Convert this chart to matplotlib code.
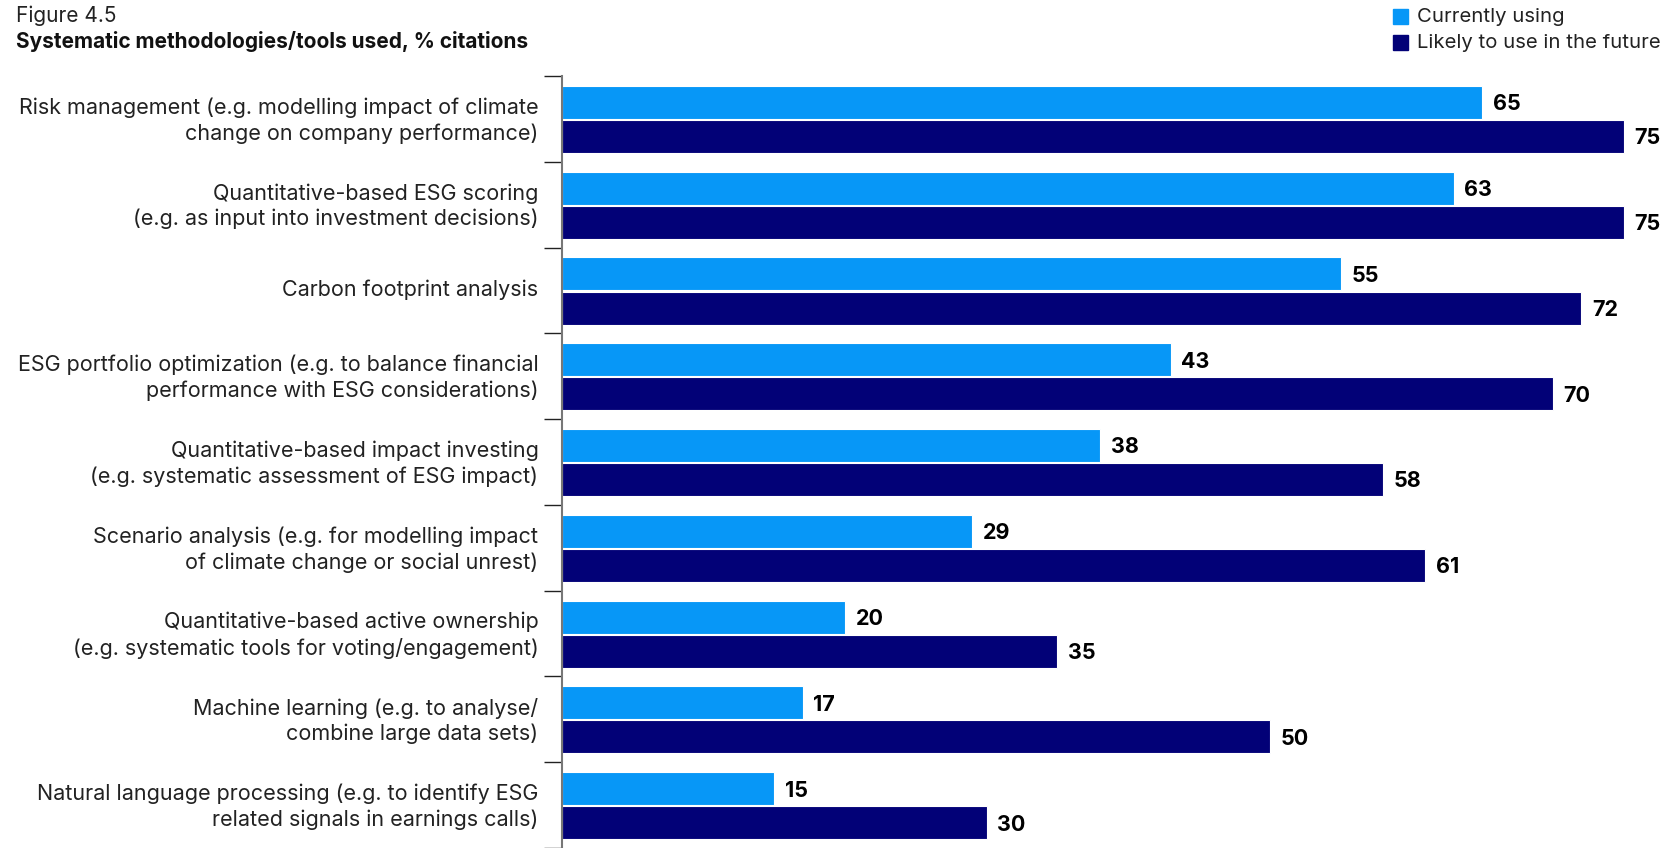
import numpy as np
import matplotlib.pyplot as plt

plt.rcParams['font.family'] = ['Inter', 'DejaVu Sans']

# Data
categories = [
    "Risk management (e.g. modelling impact of climate\nchange on company performance)",
    "Quantitative-based ESG scoring\n(e.g. as input into investment decisions)",
    "Carbon footprint analysis",
    "ESG portfolio optimization (e.g. to balance financial\nperformance with ESG considerations)",
    "Quantitative-based impact investing\n(e.g. systematic assessment of ESG impact)",
    "Scenario analysis (e.g. for modelling impact\nof climate change or social unrest)",
    "Quantitative-based active ownership\n(e.g. systematic tools for voting/engagement)",
    "Machine learning (e.g. to analyse/\ncombine large data sets)",
    "Natural language processing (e.g. to identify ESG\nrelated signals in earnings calls)",
]
current = [65, 63, 55, 43, 38, 29, 20, 17, 15]
future = [75, 75, 72, 70, 58, 61, 35, 50, 30]
series_names = ["Currently using", "Likely to use in the future"]

c_light = '#0797F7'
c_dark = '#020177'

fig = plt.figure(figsize=(16.76, 8.48), dpi=100)
ax = fig.add_axes([562 / 1676, 0, 1 - 562 / 1676, 1 - 76 / 848])

idx = np.arange(len(categories))
h = 0.385
ax.barh(idx + 0.308, current, height=h, color=c_light, edgecolor='white', linewidth=0.8)
ax.barh(idx + 0.705, future, height=h, color=c_dark, edgecolor='white', linewidth=0.8)

# value labels, nudged a touch below bar centre
for i, (c, f) in enumerate(zip(current, future)):
    ax.text(c + 0.75, i + 0.33, str(c), va='center', ha='left', fontsize=15.5, fontweight='bold')
    ax.text(f + 0.75, i + 0.727, str(f), va='center', ha='left', fontsize=15.5, fontweight='bold')

ax.set_xlim(0, 78.7)
ax.set_ylim(len(categories), 0)
ax.set_yticks(np.arange(len(categories) + 1))
ax.set_yticklabels([])
ax.set_yticks(idx + 0.5 - 0.035, minor=True)
ax.set_yticklabels(categories, minor=True, fontsize=15.5, color='#222222', linespacing=1.32)
ax.tick_params(axis='y', which='major', length=13, width=1, color='#222222')
ax.tick_params(axis='y', which='minor', length=0, pad=17)
ax.set_xticks([])
for s in ['top', 'right', 'bottom']:
    ax.spines[s].set_visible(False)
ax.spines['left'].set_color('#777777')
ax.spines['left'].set_linewidth(1.5)

fig.text(16 / 1676, 1 - 16 / 848, "Figure 4.5", fontsize=15, va='center', ha='left', color='#222222')
fig.text(16 / 1676, 1 - 42 / 848, "Systematic methodologies/tools used, % citations",
         fontsize=15, fontweight='bold', va='center', ha='left', color='#111111')

for k, (name, col) in enumerate(zip(series_names, [c_light, c_dark])):
    y = 1 - (17 + 26 * k) / 848
    fig.patches.append(plt.Rectangle((1393 / 1676, y - 7 / 848), 15 / 1676, 15 / 848,
                                     transform=fig.transFigure, color=col))
    fig.text(1417 / 1676, y, name, fontsize=14.6, va='center', ha='left', color='#222222')

fig.savefig('out.png', dpi=100)
